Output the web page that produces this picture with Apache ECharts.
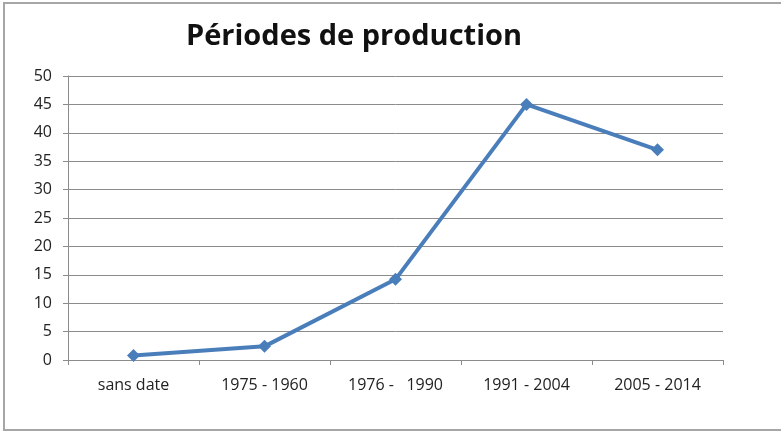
<!DOCTYPE html>
<html>
<head>
<meta charset="utf-8">
<script src="https://cdn.jsdelivr.net/npm/echarts@6/dist/echarts.min.js"></script>
<style>
  html, body { margin: 0; padding: 0; background: #fff; }
  #chart { width: 781px; height: 432px; }
</style>
</head>
<body>
<div id="chart"></div>
<script>
// data
const categories = ['sans date', '1975 - 1960', '1976 -   1990', '1991 - 2004', '2005 - 2014'];
const values = [0.8, 2.4, 14.2, 45, 37];
const yTicks = { min: 0, max: 50, interval: 5 };

const lineBlue = '#4a7ebb';
const gridGray = '#8c8c8c';

const chart = echarts.init(document.getElementById('chart'));

chart.setOption({
    backgroundColor: '#fff',
    animation: false,
    graphic: [{
        type: 'rect',
        shape: { x: 4, y: 3, width: 780, height: 427 },
        style: { fill: 'none', stroke: '#a6a6a6', lineWidth: 2 },
        silent: true
    }],
    title: {
        text: 'Périodes de production',
        left: 349,
        top: 17,
        textAlign: 'center',
        textStyle: {
            fontFamily: 'Open Sans',
            fontWeight: 'bold',
            fontSize: 29,
            color: '#111'
        }
    },
    grid: {
        left: 68,
        right: 58,
        top: 76,
        bottom: 72
    },
    xAxis: {
        type: 'category',
        data: categories,
        boundaryGap: true,
        axisLine: { lineStyle: { color: gridGray, width: 1 } },
        axisTick: { show: true, length: 5, inside: false, lineStyle: { color: gridGray } },
        axisLabel: {
            margin: 17,
            fontFamily: 'Open Sans',
            fontSize: 16,
            color: '#222',
            interval: 0
        }
    },
    yAxis: {
        type: 'value',
        min: yTicks.min,
        max: yTicks.max,
        interval: yTicks.interval,
        axisLine: { show: true, lineStyle: { color: gridGray, width: 1 } },
        axisTick: { show: true, length: 5, lineStyle: { color: gridGray } },
        splitLine: { lineStyle: { color: gridGray, width: 1 } },
        axisLabel: {
            margin: 16,
            fontFamily: 'Open Sans',
            fontSize: 16,
            color: '#222'
        }
    },
    series: [{
        type: 'line',
        data: values,
        symbol: 'diamond',
        symbolSize: 13,
        lineStyle: { color: lineBlue, width: 4 },
        itemStyle: { color: lineBlue }
    }]
});
</script>
</body>
</html>
